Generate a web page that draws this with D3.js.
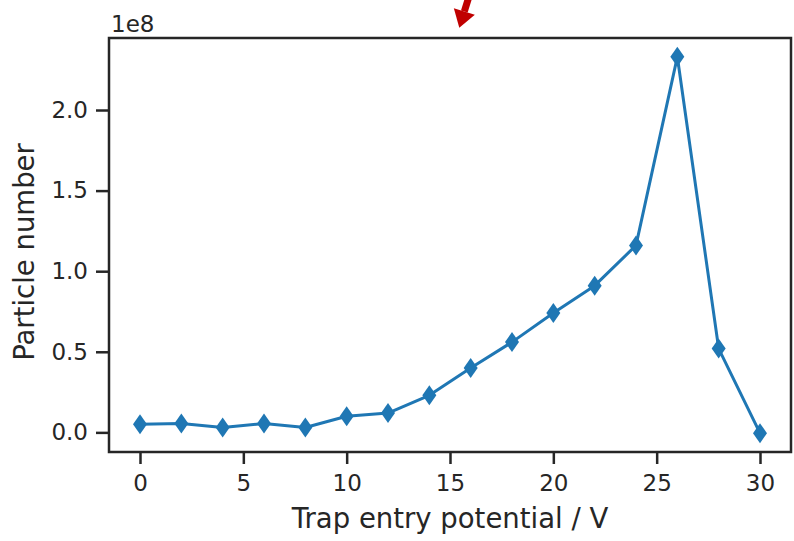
<!DOCTYPE html>
<html>
<head>
<meta charset="utf-8">
<style>
  body { margin: 0; background: #fff; }
  text { font-family: "DejaVu Sans", sans-serif; fill: #262626; }
</style>
</head>
<body>
<script src="https://cdn.jsdelivr.net/npm/d3@7"></script>
<script>
// Data (particle number in units of 1e8)
var potentials = [0, 2, 4, 6, 8, 10, 12, 14, 16, 18, 20, 22, 24, 26, 28, 30];
var particles  = [0.05, 0.055, 0.03, 0.055, 0.03, 0.10, 0.12, 0.23, 0.40, 0.56, 0.74, 0.91, 1.16, 2.33, 0.52, -0.005];
var xTicks = [0, 5, 10, 15, 20, 25, 30];
var yTicks = [0, 0.5, 1.0, 1.5, 2.0];

var W = 794, H = 541;
var margin = {top: 38, right: 3, bottom: 89, left: 109};
var width = W - margin.left - margin.right,
    height = H - margin.top - margin.bottom;

var svg = d3.select("body").append("svg")
    .attr("width", W).attr("height", H);

var g = svg.append("g").attr("transform", `translate(${margin.left},${margin.top})`);

// matplotlib style 5% padding around the data
var x = d3.scaleLinear().domain([-1.5, 31.5]).range([0, width]);
var yMin = d3.min(particles), yMax = d3.max(particles), pad = (yMax - yMin) * 0.05;
var y = d3.scaleLinear().domain([yMin - pad, yMax + pad]).range([height, 0]);

// axes
var xAxis = g.append("g").attr("transform", `translate(0,${height})`)
    .call(d3.axisBottom(x).tickValues(xTicks).tickSize(12).tickPadding(11).tickFormat(d3.format("d")));
var yAxis = g.append("g")
    .call(d3.axisLeft(y).tickValues(yTicks).tickSize(13).tickPadding(8).tickFormat(d3.format(".1f")));

[xAxis, yAxis].forEach(a => {
  a.select(".domain").remove();
  a.selectAll("line").attr("stroke", "#262626").attr("stroke-width", 2.5);
  a.selectAll("text").style("font-size", "23px").attr("fill", "#262626");
});

// frame
g.append("rect").attr("width", width).attr("height", height)
    .attr("fill", "none").attr("stroke", "#262626").attr("stroke-width", 2.5);

// line + markers
var line = d3.line().x((d, i) => x(potentials[i])).y(d => y(d));
g.append("path").datum(particles)
    .attr("d", line).attr("fill", "none")
    .attr("stroke", "#1f77b4").attr("stroke-width", 3).attr("stroke-linejoin", "round");

g.selectAll(".pt").data(particles).enter().append("path")
    .attr("class", "pt")
    .attr("d", "M0,-10 L7,0 L0,10 L-7,0 Z")
    .attr("fill", "#1f77b4")
    .attr("transform", (d, i) => `translate(${x(potentials[i])},${y(d)})`);

// offset text
g.append("text").attr("x", 2).attr("y", -6).text("1e8").style("font-size", "23px");

// labels
svg.append("text").attr("x", 450).attr("y", 528)
    .attr("text-anchor", "middle").style("font-size", "27.5px").text("Trap entry potential / V");
svg.append("text").attr("transform", `translate(34,252) rotate(-90)`)
    .attr("text-anchor", "middle").style("font-size", "27.5px").text("Particle number");

// red annotation arrow, cut off at the top
var tip = [15.45, 2.51], tail = [16.2, 2.82];
var tx = margin.left + x(tip[0]), ty = margin.top + y(tip[1]);
var sx = margin.left + x(tail[0]), sy = margin.top + y(tail[1]);
var ang = Math.atan2(ty - sy, tx - sx);
var hl = 17, hw = 11;
var bx = tx - hl * Math.cos(ang), by = ty - hl * Math.sin(ang);
svg.append("line").attr("x1", sx).attr("y1", sy).attr("x2", bx).attr("y2", by)
    .attr("stroke", "#c00000").attr("stroke-width", 7);
svg.append("path")
    .attr("d", `M${tx},${ty} L${bx + hw * Math.sin(ang)},${by - hw * Math.cos(ang)} L${bx - hw * Math.sin(ang)},${by + hw * Math.cos(ang)} Z`)
    .attr("fill", "#c00000");
</script>
</body>
</html>
